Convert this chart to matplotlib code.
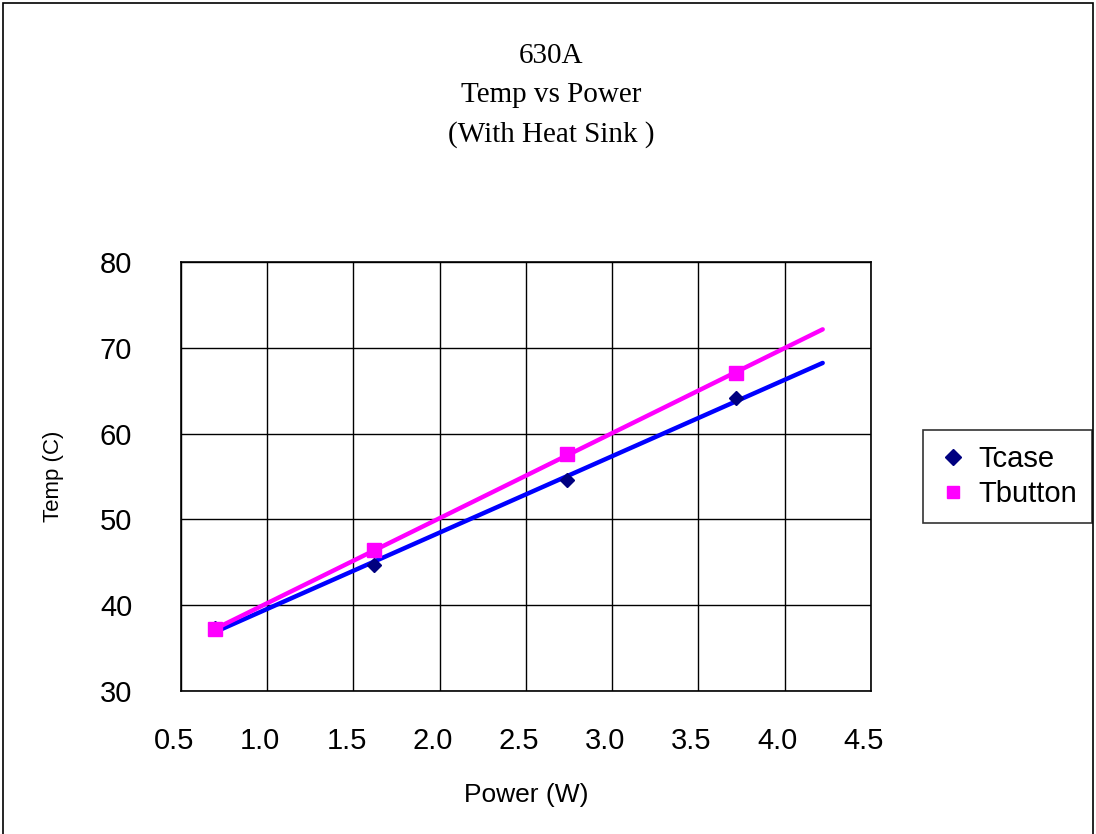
import numpy as np
import matplotlib
matplotlib.use('Agg')
import matplotlib.pyplot as plt
import matplotlib.transforms as mtransforms
from matplotlib.patches import Rectangle

FIGWIDTH = 10.96
FIGHEIGHT = 8.34
SANS = 'Liberation Sans'
SERIF = 'Liberation Serif'

# data
power = [0.70, 1.62, 2.74, 3.72]
tcase = [37.3, 44.7, 54.6, 64.2]
tbutton = [37.2, 46.4, 57.6, 67.1]
series_names = ['Tcase', 'Tbutton']
title_lines = ['630A', 'Temp vs Power', '(With Heat Sink )']
xticks = [0.5, 1.0, 1.5, 2.0, 2.5, 3.0, 3.5, 4.0, 4.5]
yticks = [30, 40, 50, 60, 70, 80]

fig = plt.figure(figsize=(FIGWIDTH, FIGHEIGHT), dpi=100)
fig.patches.append(Rectangle((0.003, -0.01), 0.994, 1.006, transform=fig.transFigure,
                             fill=False, edgecolor='black', linewidth=1.2))

ax = fig.add_axes([0.1651, 0.1715, 0.6296, 0.5144])

# linear trendlines, forward forecast 0.5
for yv, col in [(tcase, '#0000ff'), (tbutton, '#ff00ff')]:
    k, b = np.polyfit(power, yv, 1)
    xs = np.array([power[0], power[-1] + 0.5])
    ax.plot(xs, k * xs + b, color=col, linewidth=3.2, solid_capstyle='round', zorder=3)

ax.plot(power, tcase, linestyle='none', marker='D', markersize=7, color='#000080',
        label=series_names[0], zorder=4)
ax.plot(power, tbutton, linestyle='none', marker='s', markersize=10, color='#ff00ff',
        label=series_names[1], zorder=5)

ax.set_xlim(0.5, 4.5)
ax.set_ylim(30, 80)
ax.set_xticks(xticks)
ax.set_yticks(yticks)
ax.set_xticklabels(['%.1f' % v for v in xticks], family=SANS, fontsize=21)
ax.set_yticklabels([str(v) for v in yticks], family=SANS, fontsize=21)
ax.tick_params(axis='both', length=0, colors='black')
ax.tick_params(axis='x', pad=26)
ax.tick_params(axis='y', pad=35)
shift = mtransforms.ScaledTranslation(-7 / 100, 0, fig.dpi_scale_trans)
for lab in ax.get_xticklabels():
    lab.set_transform(lab.get_transform() + shift)
ax.grid(True, color='black', linewidth=1)
ax.set_axisbelow(True)
for s in ax.spines.values():
    s.set_linewidth(1.2)

ax.set_xlabel('Power (W)', family=SANS, fontsize=19, labelpad=20)
ax.set_ylabel('Temp (C)', family=SANS, fontsize=16, labelpad=26)

baselines = [0.9245, 0.8777, 0.8297]
for t, yb in zip(title_lines, baselines):
    fig.text(0.5027, yb, t, family=SERIF, fontsize=21, ha='center', va='baseline')

leg = fig.legend(loc='center', bbox_to_anchor=(0.9195, 0.4287),
                 prop={'family': SANS, 'size': 21},
                 frameon=True, fancybox=False, edgecolor='black',
                 handlelength=1.0, handletextpad=0.4, borderpad=0.5, labelspacing=0.25,
                 borderaxespad=0)
leg.get_frame().set_linewidth(1.2)
leg.legend_handles[0].set_markersize(8)
leg.legend_handles[1].set_markersize(9)

fig.savefig('out.png', dpi=100)
